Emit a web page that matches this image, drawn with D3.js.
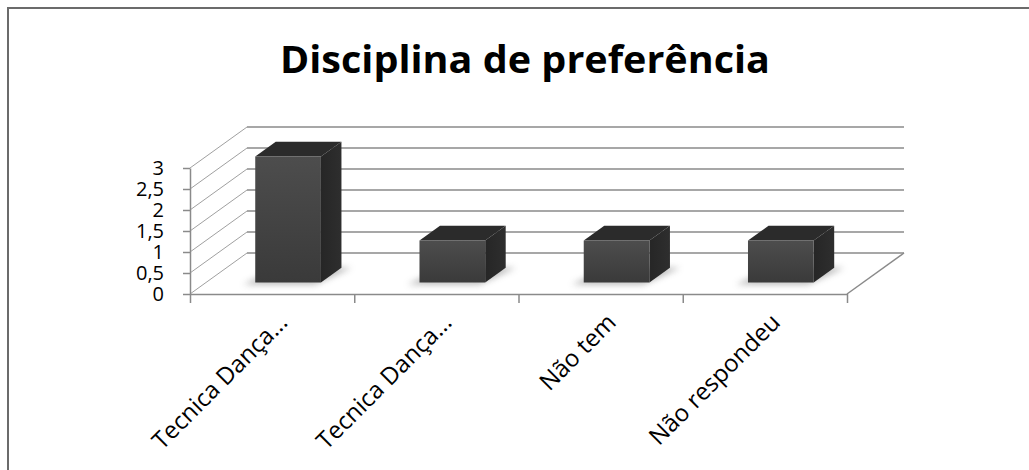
<!DOCTYPE html>
<html>
<head>
<meta charset="utf-8">
<script src="https://cdn.jsdelivr.net/npm/d3@7"></script>
<style>
  body { margin: 0; background: white; }
  text { font-family: "Open Sans", sans-serif; }
</style>
</head>
<body>
<div id="chart"></div>
<script>
// chart data
const title = "Disciplina de preferência";
const categories = ["Tecnica Dança...", "Tecnica Dança...", "Não tem", "Não respondeu"];
const values = [3, 1, 1, 1];
const yTicks = [0, 0.5, 1, 1.5, 2, 2.5, 3];

function drawChart() {
    const width = 1029;
    const height = 470;

    // front plane of the 3d box
    const x0 = 190, x1 = 847;
    const yBase = 294, yTop = 168;
    // depth offset (front -> back wall)
    const DX = 57, DY = 41;
    // bars sit between these depths
    const d0 = 0.28, d1 = 0.64;

    const svg = d3.select("#chart")
        .append("svg")
        .attr("width", width)
        .attr("height", height);

    const defs = svg.append("defs");
    defs.append("filter").attr("id", "blur")
        .attr("x", "-50%").attr("y", "-50%").attr("width", "200%").attr("height", "200%")
        .append("feGaussianBlur").attr("stdDeviation", 3);

    const grad = defs.append("linearGradient").attr("id", "front")
        .attr("x1", 0).attr("y1", 0).attr("x2", 0).attr("y2", 1);
    grad.append("stop").attr("offset", "0%").attr("stop-color", "#4d4d4d");
    grad.append("stop").attr("offset", "100%").attr("stop-color", "#3a3a3a");

    const gradSide = defs.append("linearGradient").attr("id", "side")
        .attr("x1", 0).attr("y1", 0).attr("x2", 1).attr("y2", 0);
    gradSide.append("stop").attr("offset", "0%").attr("stop-color", "#262626");
    gradSide.append("stop").attr("offset", "100%").attr("stop-color", "#2e2e2e");

    // frame
    svg.append("path")
        .attr("d", "M8," + height + " L8,8 L" + width + ",8")
        .attr("fill", "none")
        .attr("stroke", "#6b6b6b")
        .attr("stroke-width", 2);

    // title
    svg.append("text")
        .attr("x", 525)
        .attr("y", 73)
        .attr("text-anchor", "middle")
        .attr("textLength", 490)
        .attr("lengthAdjust", "spacingAndGlyphs")
        .style("font-size", "37px")
        .style("font-weight", "bold")
        .attr("fill", "#000")
        .text(title);

    const x = d3.scaleBand()
        .domain(d3.range(categories.length))
        .range([x0, x1])
        .padding(0);

    const y = d3.scaleLinear()
        .domain([0, 3])
        .range([yBase, yTop]);

    const p = (px, py, d) => [px + d * DX, py - d * DY];
    const line = d3.line();

    // walls and grid
    const grid = svg.append("g")
        .attr("fill", "none")
        .attr("stroke", "#8a8a8a")
        .attr("stroke-width", 1.5);

    yTicks.forEach(function (t) {
        // side wall diagonal
        grid.append("path")
            .attr("stroke", "#a0a0a0")
            .attr("stroke-width", 1)
            .attr("d", line([p(x0, y(t), 0), p(x0, y(t), 1)]));
        // back wall line
        grid.append("path")
            .attr("d", line([p(x0, y(t), 1), p(x1, y(t), 1)]));
    });
    // floor right edge
    grid.append("path")
        .attr("d", line([p(x1, yBase, 0), p(x1, yBase, 1)]));

    // shadows
    svg.append("g")
        .selectAll("path")
        .data(values)
        .join("path")
        .attr("filter", "url(#blur)")
        .attr("fill", "#9a9a9a")
        .attr("opacity", 0.7)
        .attr("d", function (v, i) {
            const bw = x.bandwidth() * 0.4;
            const bx = x(i) + (x.bandwidth() - bw) / 2;
            return line([
                p(bx - 12, yBase + 2, d0),
                p(bx + bw - 6, yBase + 2, d0),
                p(bx + bw + 10, yBase, d1),
                p(bx + 4, yBase, d1)
            ]) + "Z";
        });

    // bars
    const bars = svg.append("g")
        .selectAll("g")
        .data(values)
        .join("g");

    const corners = function (v, i) {
        const bw = x.bandwidth() * 0.4;
        const bx = x(i) + (x.bandwidth() - bw) / 2;
        return { l: bx, r: bx + bw, b: y(0), t: y(v) };
    };

    bars.append("path")
        .attr("fill", "#2b2b2b")
        .attr("d", function (v, i) {
            const c = corners(v, i);
            return line([p(c.l, c.t, d0), p(c.r, c.t, d0), p(c.r, c.t, d1), p(c.l, c.t, d1)]) + "Z";
        });
    bars.append("path")
        .attr("fill", "url(#side)")
        .attr("d", function (v, i) {
            const c = corners(v, i);
            return line([p(c.r, c.t, d0), p(c.r, c.t, d1), p(c.r, c.b, d1), p(c.r, c.b, d0)]) + "Z";
        });
    bars.append("path")
        .attr("fill", "url(#front)")
        .attr("d", function (v, i) {
            const c = corners(v, i);
            return line([p(c.l, c.t, d0), p(c.r, c.t, d0), p(c.r, c.b, d0), p(c.l, c.b, d0)]) + "Z";
        });

    // y axis
    const yAxis = svg.append("g")
        .attr("transform", "translate(" + x0 + ",0)")
        .call(d3.axisLeft(y)
            .tickValues(yTicks)
            .tickSize(7)
            .tickSizeOuter(0)
            .tickPadding(19)
            .tickFormat(d => String(d).replace(".", ",")));
    yAxis.select(".domain").attr("stroke", "#8a8a8a").attr("stroke-width", 1.5);
    yAxis.selectAll(".tick line").attr("stroke", "#8a8a8a").attr("stroke-width", 1.5);
    yAxis.selectAll(".tick text")
        .attr("fill", "#000")
        .style("font-size", "20px")
        .style("font-family", "'Open Sans', sans-serif");

    // x axis, ticks at category boundaries
    const xb = d3.scaleLinear().domain([0, categories.length]).range([x0, x1]);
    const xAxis = svg.append("g")
        .attr("transform", "translate(0," + yBase + ")")
        .call(d3.axisBottom(xb)
            .tickValues(d3.range(categories.length + 1))
            .tickSize(9)
            .tickSizeOuter(0)
            .tickFormat(""));
    xAxis.select(".domain").attr("stroke", "#8a8a8a").attr("stroke-width", 1.5);
    xAxis.selectAll(".tick line").attr("stroke", "#8a8a8a").attr("stroke-width", 1.5);

    // category labels
    svg.append("g")
        .selectAll("text")
        .data(categories)
        .join("text")
        .attr("text-anchor", "end")
        .attr("transform", (d, i) => "translate(" + (x(i) + x.bandwidth() / 2 + 5) + "," + 312 + ") rotate(-45)")
        .attr("dy", "0.7em")
        .style("font-size", "24px")
        .attr("fill", "#000")
        .text(d => d);
}

drawChart();
</script>
</body>
</html>
